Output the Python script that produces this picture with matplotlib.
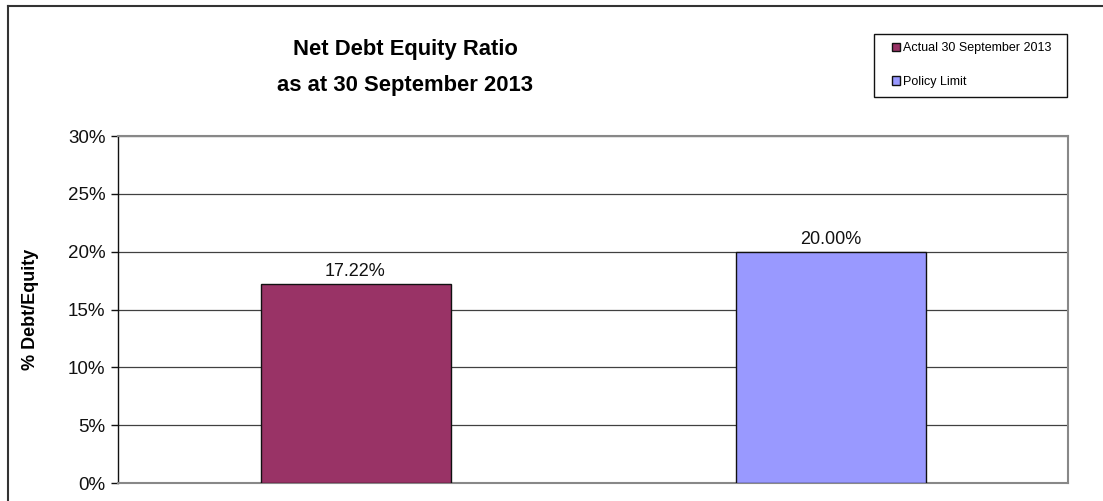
import matplotlib
matplotlib.use("Agg")
import matplotlib.pyplot as plt
from matplotlib.lines import Line2D
from matplotlib.patches import Rectangle
from matplotlib.ticker import FuncFormatter, MultipleLocator

# data
categories = ["Actual 30 September 2013", "Policy Limit"]
values = [17.22, 20.00]
bar_colors = ["#993366", "#9999FF"]
title_lines = ["Net Debt Equity Ratio", "as at 30 September 2013"]
ylabel = "% Debt/Equity"

plt.rcParams["font.family"] = ["Liberation Sans", "DejaVu Sans"]

W, H = 1103, 501
fig = plt.figure(figsize=(W / 100, H / 100), dpi=100)
ax = fig.add_axes([118 / W, 1 - 483 / H, (1068 - 118) / W, (483 - 136) / H])

x = list(range(len(categories)))
bars = ax.bar(x, values, width=0.4, color=bar_colors, edgecolor="#111111",
              linewidth=1.0, zorder=3)

for b, v in zip(bars, values):
    ax.text(b.get_x() + b.get_width() / 2, v + 0.35, f"{v:.2f}%",
            ha="center", va="bottom", fontsize=13, color="#111111")

ax.set_xlim(-0.5, len(categories) - 0.5)
ax.set_ylim(0, 30)
ax.yaxis.set_major_locator(MultipleLocator(5))
ax.yaxis.set_major_formatter(FuncFormatter(lambda v, p: f"{v:.0f}%"))
ax.tick_params(axis="y", direction="out", length=5, width=1, labelsize=13.5,
               pad=4, colors="#111111")
ax.set_xticks([])
ax.grid(axis="y", color="#404040", linewidth=0.9, zorder=0)

ax.spines["left"].set_color("#111111")
ax.spines["left"].set_linewidth(1.0)
for s in ["right", "top", "bottom"]:
    ax.spines[s].set_color("#888888")
    ax.spines[s].set_linewidth(1.5)

ax.set_ylabel(ylabel, fontsize=13, fontweight="bold", labelpad=21)

fig.text(405 / W, 1 - 50 / H, title_lines[0], ha="center", va="center",
         fontsize=15.8, fontweight="bold")
fig.text(405 / W, 1 - 85 / H, title_lines[1], ha="center", va="center",
         fontsize=15.8, fontweight="bold")

# legend box
fig.add_artist(Rectangle((874 / W, 1 - 97 / H), (1067 - 874) / W, (97 - 34) / H,
                         transform=fig.transFigure, facecolor="white",
                         edgecolor="#111111", linewidth=1.0))
leg = fig.legend(handles=list(bars), labels=categories,
                 loc="upper left", bbox_to_anchor=(892 / W, 1 - 42.5 / H),
                 fontsize=9, frameon=False,
                 handlelength=0.65, handleheight=0.65, handletextpad=0.25,
                 labelspacing=1.7, borderpad=0, borderaxespad=0)

# outer chart border (top and left visible)
fig.add_artist(Line2D([7.5 / W, 1], [1 - 5.5 / H, 1 - 5.5 / H], transform=fig.transFigure,
                      color="#333333", linewidth=1.5))
fig.add_artist(Line2D([7.5 / W, 7.5 / W], [0, 1 - 5.5 / H], transform=fig.transFigure,
                      color="#333333", linewidth=1.5))

fig.savefig("out.png", dpi=100)
